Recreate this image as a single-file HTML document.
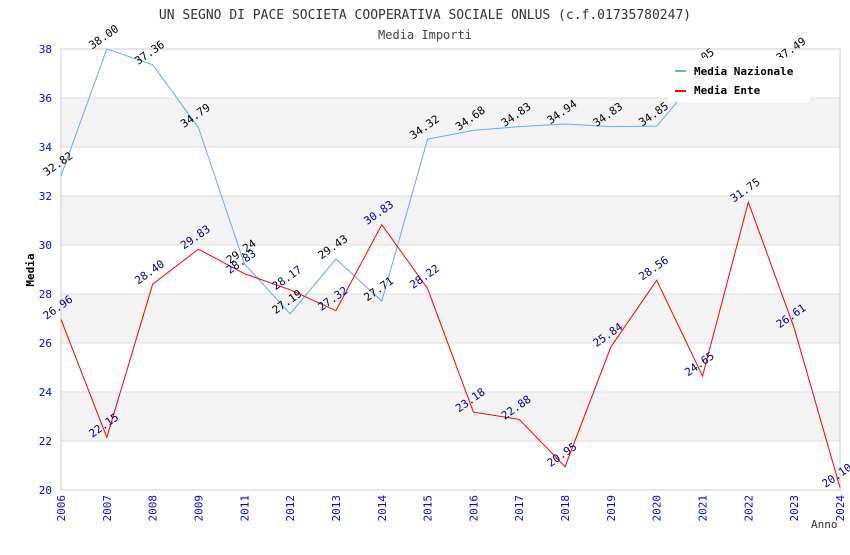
<!DOCTYPE html>
<html><head><meta charset="utf-8"><style>
body{margin:0;background:#fff;}
svg text{font-family:"DejaVu Sans Mono","Liberation Mono",monospace;}
</style></head><body>
<svg id="chart" width="850" height="550" xmlns="http://www.w3.org/2000/svg">
<text x="425" y="19" text-anchor="middle" font-size="13" fill="#333">UN SEGNO DI PACE SOCIETA COOPERATIVA SOCIALE ONLUS (c.f.01735780247)</text>
<text x="425" y="39" text-anchor="middle" font-size="12" fill="#444">Media Importi</text>
<g id="grid"></g><g id="axes"></g><g id="series"></g>
<g>
<rect x="668" y="58" width="142" height="44" fill="#fff"/>
<rect x="675" y="70" width="11" height="2" fill="#66aaee"/>
<text x="694" y="75" font-size="11" font-weight="bold" fill="#000">Media Nazionale</text>
<rect x="675" y="90" width="11" height="2" fill="#ff0000"/>
<text x="694" y="94" font-size="11" font-weight="bold" fill="#000">Media Ente</text>
</g>
</svg>
<script>
const years=["2006","2007","2008","2009","2011","2012","2013","2014","2015","2016","2017","2018","2019","2020","2021","2022","2023","2024"];
const nazionale=[32.82,38.00,37.36,34.79,29.24,27.19,29.43,27.71,34.32,34.68,34.83,34.94,34.83,34.85,37.05,36.6,37.49,null];
const ente=[26.96,22.15,28.40,29.83,28.83,28.17,27.32,30.83,28.22,23.18,22.88,20.95,25.84,28.56,24.65,31.75,26.61,20.10];
const yTicks=[20,22,24,26,28,30,32,34,36,38];
const NS="http://www.w3.org/2000/svg";
const L=61,R=840,T=49,B=490,yMin=20,yMax=38;
const x=i=>L+i*(R-L)/(years.length-1);
const y=v=>B-(v-yMin)/(yMax-yMin)*(B-T);
function mk(tag,attrs,parent){const e=document.createElementNS(NS,tag);for(const k in attrs)e.setAttribute(k,attrs[k]);parent.appendChild(e);return e;}
const grid=document.getElementById('grid'),axes=document.getElementById('axes'),ser=document.getElementById('series');
for(let k=0;k<yTicks.length-1;k++){
  if(k%2===1){const r=mk('rect',{x:L,y:y(yTicks[k+1]),width:R-L,height:y(yTicks[k])-y(yTicks[k+1]),fill:'#f3f3f3'},grid);
  
  }
}
yTicks.forEach(t=>{
  const l=mk('line',{x1:L,x2:R,y1:y(t),y2:y(t),stroke:'#dddddd'},grid);
  
  
  const tx=mk('text',{x:L-9,y:y(t)+4,'text-anchor':'end','font-size':11,fill:'#0000ff'},axes);
  
  
  tx.textContent=t;
});
const bd=mk('rect',{x:L,y:T,width:R-L,height:B-T,fill:'none',stroke:'#cccccc'},axes);


years.forEach((yr,i)=>{
  const tx=mk('text',{transform:`translate(${x(i)+4},${B+5}) rotate(-90)`,'text-anchor':'end','font-size':11,fill:'#0000ff'},axes);
  
  
  tx.textContent=yr;
});
const yt=mk('text',{transform:`translate(34,270) rotate(-90)`,'text-anchor':'middle','font-size':11,'font-weight':'bold',fill:'#000'},axes);


yt.textContent='Media';
const xt=mk('text',{x:811,y:528,'font-size':11,fill:'#333'},axes);


xt.textContent='Anno';
function draw(vals,color,lblColor,name){
  let d='';vals.forEach((v,i)=>{if(v==null)return;d+=(d?'L':'M')+x(i)+','+y(v);});
  const p=mk('path',{d:d,fill:'none',stroke:color,'stroke-width':1},ser);
  
  
  vals.forEach((v,i)=>{if(v==null)return;
    const t=mk('text',{transform:`translate(${x(i)-1},${y(v)-9}) rotate(-35)`,'text-anchor':'middle','font-size':11,fill:lblColor},ser);
    
    
    t.textContent=v.toFixed(2);});
}
draw(nazionale,'#66aaee','#000','nazionale');
draw(ente,'#ff0000','#000080','ente');
</script>
</body></html>
